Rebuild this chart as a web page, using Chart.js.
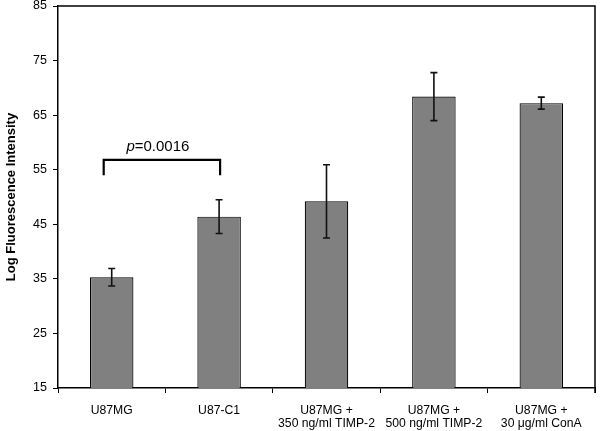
<!DOCTYPE html>
<html><head><meta charset="utf-8">
<script src="https://cdn.jsdelivr.net/npm/chart.js@4"></script>
<style>html,body{margin:0;padding:0;background:#fff}#wrap{width:600px;height:431px;position:relative}</style>
</head><body><div id="wrap"><canvas id="c"></canvas></div>
<script>
const categories = [["U87MG"], ["U87-C1"], ["U87MG +", "350 ng/ml TIMP-2"], ["U87MG +", "500 ng/ml TIMP-2"], ["U87MG +", "30 \u03bcg/ml ConA"]];
const meanValues = [35.3, 46.4, 49.2, 68.4, 67.2];
const errorValues = [1.6, 3.1, 6.7, 4.4, 1.1];
const yTicks = [15, 25, 35, 45, 55, 65, 75, 85];
const bracketCategories = [0, 1];
const bracketLevels = [56.8, 54.0];
const pValueText = "=0.0016";

const FONT = "'Liberation Sans', Arial, sans-serif";

const overlay = {
  id: 'overlay',
  afterDatasetsDraw(chart) {
    const ctx = chart.ctx, xs = chart.scales.x, ys = chart.scales.y, a = chart.chartArea;
    ctx.save();
    // top and right frame
    ctx.strokeStyle = '#000'; ctx.lineWidth = 1.5;
    ctx.beginPath();
    ctx.moveTo(a.left, a.top); ctx.lineTo(a.right, a.top); ctx.lineTo(a.right, a.bottom + 5);
    ctx.stroke();
    // error bars
    ctx.strokeStyle = '#111'; ctx.lineWidth = 1.6;
    meanValues.forEach((v, i) => {
      const x = xs.getPixelForValue(i);
      const yt = ys.getPixelForValue(v + errorValues[i]);
      const yb = ys.getPixelForValue(v - errorValues[i]);
      ctx.beginPath();
      ctx.moveTo(x, yt); ctx.lineTo(x, yb);
      ctx.moveTo(x - 3.5, yt); ctx.lineTo(x + 3.5, yt);
      ctx.moveTo(x - 3.5, yb); ctx.lineTo(x + 3.5, yb);
      ctx.stroke();
    });
    // significance bracket
    const x1 = xs.getPixelForValue(bracketCategories[0]) - 8;
    const x2 = xs.getPixelForValue(bracketCategories[1]) + 1;
    const yT = ys.getPixelForValue(bracketLevels[0]);
    const yB = ys.getPixelForValue(bracketLevels[1]);
    ctx.strokeStyle = '#000'; ctx.lineWidth = 2.2;
    ctx.beginPath();
    ctx.moveTo(x1, yB); ctx.lineTo(x1, yT); ctx.lineTo(x2, yT); ctx.lineTo(x2, yB);
    ctx.stroke();
    // p label
    ctx.fillStyle = '#000';
    ctx.textBaseline = 'alphabetic';
    const italic = 'italic 15px ' + FONT, normal = '15px ' + FONT;
    ctx.font = italic; const w1 = ctx.measureText('p').width;
    ctx.font = normal; const w2 = ctx.measureText(pValueText).width;
    const cx = (x1 + x2) / 2 - 4;
    const sx = cx - (w1 + w2) / 2;
    const by = yT - 9;
    ctx.font = italic; ctx.fillText('p', sx, by);
    ctx.font = normal; ctx.fillText(pValueText, sx + w1, by);
    ctx.restore();
  }
};

new Chart(document.getElementById('c'), {
  type: 'bar',
  data: {
    labels: categories,
    datasets: [{
      data: meanValues,
      backgroundColor: '#808080',
      borderColor: '#000',
      borderWidth: 1.2,
      categoryPercentage: 1,
      barPercentage: 0.405
    }]
  },
  options: {
    responsive: true,
    maintainAspectRatio: false,
    animation: false,
    devicePixelRatio: 1,
    layout: { padding: { top: 6, right: 5, left: 0, bottom: 0 } },
    plugins: { legend: { display: false }, tooltip: { enabled: false } },
    scales: {
      x: {
        offset: true,
        grid: { display: true, drawOnChartArea: false, offset: true, tickLength: 5, color: '#000', lineWidth: 1 },
        border: { display: true, color: '#000', width: 1.5 },
        ticks: { color: '#000', font: { family: FONT, size: 12.2, lineHeight: 1.1 }, padding: 11, maxRotation: 0, autoSkip: false },
        afterFit(s) { s.height = 43; s.paddingLeft = 0; s.paddingRight = 0; }
      },
      y: {
        min: 15, max: 85,
        afterBuildTicks(s) { s.ticks = yTicks.map(v => ({ value: v })); },
        grid: { display: true, drawOnChartArea: false, tickLength: 5, color: '#000', lineWidth: 1 },
        border: { display: true, color: '#000', width: 1.5 },
        ticks: { color: '#000', font: { family: FONT, size: 12.5 }, padding: 6 },
        title: { display: true, text: 'Log Fluorescence Intensity', color: '#000', font: { family: FONT, size: 13, weight: 'bold' }, padding: { top: 4, bottom: 0 } },
        afterFit(s) { s.width = 58; s.paddingTop = 0; s.paddingBottom = 0; }
      }
    }
  },
  plugins: [overlay]
});
</script>
</body></html>
